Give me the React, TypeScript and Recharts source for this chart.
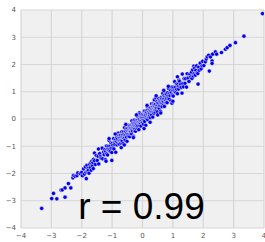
import { ScatterChart, Scatter, XAxis, YAxis, CartesianGrid } from 'recharts';

const ticks = [-4, -3, -2, -1, 0, 1, 2, 3, 4];
const caption = 'r = 0.99';

// points, split by region of the cloud
const lowerTail = [
  [-3.32, -3.28], [-2.99, -2.92], [-2.93, -2.73], [-2.82, -2.93], [-2.68, -2.61],
  [-2.64, -2.6], [-2.55, -2.87], [-2.55, -2.53], [-2.44, -2.37], [-2.36, -2.53],
  [-2.29, -2.16], [-2.27, -2.07], [-2.22, -2.1], [-2.16, -2.08], [-2.13, -1.98],
  [-2.05, -2.0], [-2.0, -1.96], [-1.98, -2.08], [-1.94, -1.83], [-1.91, -2.02],
  [-1.88, -1.76], [-1.86, -1.95], [-1.85, -2.19], [-1.83, -1.7], [-1.81, -1.92],
  [-1.79, -1.81], [-1.78, -1.88], [-1.76, -1.99], [-1.74, -1.66], [-1.72, -1.79],
  [-1.7, -1.61], [-1.69, -1.88], [-1.67, -1.55], [-1.65, -1.71], [-1.63, -1.6],
  [-1.62, -1.82], [-1.61, -1.48],
];

const coreLow = [
  [-1.58, -1.53], [-1.58, -1.25], [-1.55, -1.67], [-1.52, -1.34], [-1.49, -1.52], [-1.46, -1.37],
  [-1.44, -1.65], [-1.41, -1.27], [-1.38, -1.38], [-1.36, -1.44], [-1.33, -1.07],
  [-1.31, -1.46], [-1.28, -1.21], [-1.26, -1.31], [-1.24, -1.13], [-1.22, -1.49],
  [-1.21, -1.19], [-1.19, -0.99], [-1.18, -1.28], [-1.16, -1.12], [-1.15, -1.32],
  [-1.13, -1.0], [-1.12, -1.13], [-1.1, -0.79], [-1.09, -1.16], [-1.07, -0.99],
  [-1.06, -1.19], [-1.04, -0.88], [-1.03, -1.07], [-1.01, -1.23], [-1.01, -1.52],
  [-1.0, -0.9], [-0.98, -0.97], [-0.97, -1.06], [-0.95, -0.72], [-0.94, -1.1],
  [-0.92, -0.86], [-0.91, -0.93], [-0.89, -0.77], [-0.88, -1.22], [-0.86, -0.83],
  [-0.85, -0.68], [-0.84, -0.95], [-0.83, -0.74], [-0.81, -0.87], [-0.8, -0.52],
  [-0.79, -0.6], [-0.78, -0.78], [-0.77, -0.92], [-0.76, -0.68], [-0.75, -0.8],
  [-0.74, -0.6], [-0.73, -0.78], [-0.72, -0.6], [-0.71, -0.89], [-0.7, -0.67],
  [-0.69, -0.78], [-0.68, -0.47], [-0.67, -0.81], [-0.66, -0.66], [-0.65, -0.57],
  [-0.64, -0.9], [-0.63, -0.48], [-0.62, -0.69], [-0.61, -0.56], [-0.6, -0.71],
  [-0.59, -0.32], [-0.58, -0.6], [-0.57, -0.77], [-0.56, -0.46], [-0.55, -0.59],
  [-0.54, -0.37], [-0.53, -0.66], [-0.52, -0.51], [-0.51, -0.82], [-0.5, -0.43],
  [-0.49, -0.57], [-0.48, -0.35], [-0.47, -0.63], [-0.46, -0.42], [-0.45, -0.23],
  [-0.44, -0.54], [-0.43, -0.44], [-0.42, -0.33], [-0.42, -0.65], [-0.41, -0.25],
  [-0.4, -0.46], [-0.4, -0.38],
];

const coreMid = [
  [-0.39, -0.53], [-0.39, -0.34], [-0.38, -0.46], [-0.37, -0.22], [-0.36, -0.36],
  [-0.36, -0.55], [-0.35, -0.07], [-0.34, -0.4], [-0.33, -0.24], [-0.33, -0.44],
  [-0.32, -0.15], [-0.31, -0.28], [-0.3, -0.64], [-0.3, -0.18], [-0.29, -0.31],
  [-0.28, -0.22], [-0.27, -0.43], [-0.27, -0.04], [-0.26, -0.35], [-0.25, -0.24],
  [-0.24, -0.14], [-0.23, -0.45], [-0.23, -0.27], [-0.22, -0.06], [-0.21, -0.34],
  [-0.2, -0.12], [-0.19, -0.26], [-0.19, 0.12], [-0.18, -0.19], [-0.17, -0.04],
  [-0.16, -0.33], [-0.15, -0.11], [-0.15, -0.25], [-0.14, 0.06], [-0.13, -0.11],
  [-0.12, -0.39], [-0.11, 0.0], [-0.1, -0.15], [-0.1, -0.03], [-0.1, 0.23],
  [-0.09, -0.24], [-0.08, 0.18], [-0.07, -0.15], [-0.06, -0.06], [-0.05, 0.09],
  [-0.05, -0.26], [-0.04, 0.05], [-0.03, -0.06], [-0.02, 0.16], [-0.01, -0.13],
  [-0.01, 0.04], [0.0, -0.13], [0.01, 0.17], [0.02, -0.02], [0.03, -0.19],
  [0.04, 0.14], [0.05, 0.06], [0.05, -0.04], [0.06, 0.29], [0.07, -0.09],
  [0.08, 0.14], [0.09, 0.07], [0.1, 0.22], [0.11, -0.23], [0.11, 0.14],
  [0.12, 0.29], [0.13, 0.02], [0.14, 0.23], [0.15, 0.09], [0.16, 0.44],
  [0.17, -0.02], [0.17, 0.17], [0.18, 0.33], [0.19, 0.11], [0.2, 0.25],
  [0.21, 0.07], [0.22, 0.27], [0.23, 0.11], [0.23, 0.41], [0.24, 0.21],
  [0.25, 0.34], [0.26, 0.05], [0.27, 0.41], [0.28, 0.28], [0.29, 0.21],
  [0.3, 0.56], [0.3, 0.15], [0.31, 0.38], [0.32, 0.27], [0.33, 0.44],
  [0.34, 0.07], [0.35, 0.37], [0.35, 0.55], [0.36, 0.26], [0.37, 0.41],
  [0.38, 0.21], [0.38, 0.51], [0.39, 0.38], [0.39, 0.7], [0.4, 0.33], [0.4, 0.48],
];

const coreHigh = [
  [0.41, 0.32], [0.42, 0.53], [0.42, 0.25], [0.43, 0.4], [0.44, 0.78],
  [0.45, 0.33], [0.46, 0.48], [0.47, 0.41], [0.48, 0.64], [0.49, 0.26],
  [0.5, 0.59], [0.51, 0.5], [0.52, 0.42], [0.53, 0.75], [0.54, 0.58],
  [0.55, 0.39], [0.56, 0.69], [0.57, 0.49], [0.58, 0.65], [0.59, 0.28],
  [0.6, 0.61], [0.61, 0.48], [0.62, 0.79], [0.63, 0.59], [0.64, 0.74],
  [0.65, 0.45], [0.66, 0.64], [0.67, 0.94], [0.68, 0.57], [0.69, 0.74],
  [0.7, 0.63], [0.71, 0.86], [0.72, 0.46], [0.73, 0.81], [0.74, 0.74],
  [0.75, 0.61], [0.76, 0.97], [0.77, 0.68], [0.78, 0.81], [0.78, 0.6],
  [0.79, 0.91], [0.8, 0.75], [0.81, 0.6], [0.83, 0.97], [0.84, 0.84],
  [0.85, 0.77], [0.86, 1.12], [0.88, 0.73], [0.89, 0.96], [0.91, 0.86],
  [0.92, 1.03], [0.94, 0.67], [0.95, 0.97], [0.97, 1.17], [0.97, 0.58],
  [0.98, 0.88], [1.0, 1.04], [1.01, 0.84], [1.03, 1.16], [1.04, 1.03],
  [1.06, 1.37], [1.07, 1.0], [1.09, 1.17], [1.1, 0.97], [1.12, 1.28],
  [1.13, 1.09], [1.15, 0.93], [1.16, 1.26], [1.18, 1.19], [1.19, 1.1],
  [1.2, 1.43], [1.22, 1.38], [1.24, 1.18], [1.26, 1.28], [1.28, 1.16],
  [1.31, 1.65], [1.33, 1.3], [1.35, 1.18], [1.37, 1.48], [1.4, 1.31],
  [1.42, 1.48], [1.45, 1.17], [1.47, 1.66], [1.5, 1.5], [1.53, 1.38],
  [1.56, 1.64], [1.59, 1.54],
];

// looser points along the edges of the band
const coreSpread = [
  [-1.45, -1.1], [-1.2, -1.55], [-1.1, -0.72], [-0.9, -0.55], [-0.7, -1.05],
  [-0.6, -0.95], [-0.55, -0.2], [-0.3, -0.68], [-0.2, 0.15], [0.05, -0.35],
  [0.15, 0.5], [0.25, -0.12], [0.45, 0.85], [0.5, 0.15], [0.6, 0.22],
  [0.7, 1.05], [0.85, 1.2], [1.0, 0.65], [1.15, 1.55], [1.3, 0.95],
];

const upperTail = [
  [1.61, 1.72], [1.63, 1.49], [1.65, 1.8], [1.67, 1.58], [1.69, 1.94],
  [1.7, 1.66], [1.72, 1.87], [1.74, 1.61], [1.76, 1.78], [1.78, 1.95],
  [1.8, 1.7], [1.82, 1.67], [1.83, 1.28], [1.85, 1.9], [1.87, 1.79],
  [1.9, 2.05], [1.93, 1.84], [1.96, 1.95], [1.98, 2.12], [2.02, 1.96],
  [2.07, 2.1], [2.1, 2.2], [2.13, 2.28], [2.18, 2.34], [2.2, 1.76],
  [2.24, 2.28], [2.29, 2.13], [2.29, 2.04], [2.31, 2.38], [2.4, 2.46],
  [2.44, 2.38], [2.6, 2.44], [2.73, 2.56], [2.79, 2.62], [2.88, 2.7],
  [3.06, 2.8], [3.34, 3.04], [3.95, 3.87],
];

const points = [...lowerTail, ...coreLow, ...coreMid, ...coreHigh, ...coreSpread, ...upperTail].map(
  ([x, y]) => ({ x, y })
);

const fmt = (v: number) => (v < 0 ? `\u2212${-v}` : `${v}`);

const Dot = (props: any) => (
  <circle cx={props.cx} cy={props.cy} r={2.1} fill='#0000ee' stroke='#ffffff' strokeWidth={0.5} />
);

const tickStyle = { fontSize: 7, fill: '#555555', fontFamily: 'DejaVu Sans' };

export default function App() {
  return (
    <div style={{ position: 'absolute', left: 0, top: 0, width: 265, height: 242, background: '#ffffff' }}>
      <ScatterChart width={265} height={242} margin={{ top: 10, right: 1, bottom: 0, left: 0 }}>
        <CartesianGrid fill='#f0f0f0' stroke='#d6d6d6' strokeWidth={1.2} />
        <XAxis
          type='number'
          dataKey='x'
          domain={[-4, 4]}
          ticks={ticks}
          allowDataOverflow
          axisLine={false}
          tickLine={false}
          tickSize={3}
          tickMargin={2}
          height={14}
          tickFormatter={fmt}
          tick={tickStyle}
          interval={0}
        />
        <YAxis
          type='number'
          dataKey='y'
          domain={[-4, 4]}
          ticks={ticks}
          allowDataOverflow
          axisLine={false}
          tickLine={false}
          tickSize={3}
          tickMargin={2}
          width={21}
          tickFormatter={fmt}
          tick={tickStyle}
          interval={0}
        />
        <Scatter data={points} shape={Dot} isAnimationActive={false} />
      </ScatterChart>
      <svg width={265} height={242} style={{ position: 'absolute', left: 0, top: 0, pointerEvents: 'none' }}>
        <text x={141.5} y={219} textAnchor='middle' fontSize={37} fontFamily='Liberation Sans, Arial' fill='#000000'>
          {caption}
        </text>
      </svg>
    </div>
  );
}
